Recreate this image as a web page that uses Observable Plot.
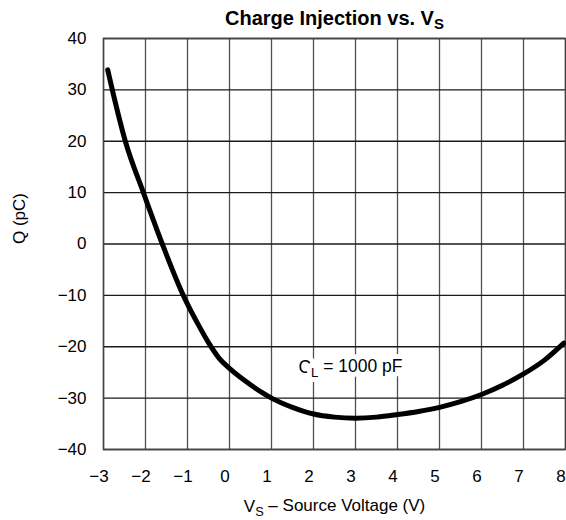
<!DOCTYPE html>
<html>
<head>
<meta charset="utf-8">
<script src="https://cdn.jsdelivr.net/npm/d3@7"></script>
<script src="https://cdn.jsdelivr.net/npm/@observablehq/plot@0.6"></script>
<style>
  html, body { margin: 0; padding: 0; background: #fff; }
</style>
</head>
<body>
<div id="chart"></div>
<script>
// Data
const vsValues = [-2.9, -2.79, -2.48, -2.05, -1.6, -1.1, -1, -0.75, -0.5, -0.25, 0, 0.25, 0.5, 0.75, 1, 1.5, 2, 2.5, 3, 3.5, 4, 4.5, 5, 5.5, 6, 6.5, 7, 7.5, 7.96];
const qValues  = [33.9, 30, 20, 10, 0, -10, -11.7, -15.6, -19.2, -22.2, -24.2, -25.9, -27.4, -28.8, -30.0, -31.8, -33.1, -33.7, -33.9, -33.7, -33.2, -32.6, -31.8, -30.7, -29.3, -27.5, -25.3, -22.6, -19.3];
const xTicks = [-3, -2, -1, 0, 1, 2, 3, 4, 5, 6, 7, 8];
const yTicks = [-40, -30, -20, -10, 0, 10, 20, 30, 40];
const titleText = "Charge Injection vs. VS";
const xLabelText = "VS – Source Voltage (V)";
const yLabelText = "Q (pC)";
const annotation = [{x: 1.64, y: -24, text: "CL = 1000 pF"}];

const data = vsValues.map((v, i) => ({vs: v, q: qValues[i]}));
const font = "'Liberation Sans', Arial, Helvetica, sans-serif";

const chart = Plot.plot({
  width: 566,
  height: 520,
  marginLeft: 103,
  marginRight: 1,
  marginTop: 38,
  marginBottom: 71,
  style: {fontFamily: font, fontSize: "17px", color: "#000", background: "#fff"},
  x: {domain: [-3, 8], label: null},
  y: {domain: [-40, 40], label: null},
  marks: [
    Plot.axisX({ticks: xTicks, tickSize: 0, tickPadding: 20, dx: -4.5, fontSize: 17, label: null}),
    Plot.axisY({ticks: yTicks, tickSize: 0, tickPadding: 17, fontSize: 17, label: null}),
    Plot.ruleX(xTicks, {x: d => d, stroke: "#505050", strokeOpacity: 1, strokeWidth: 1.3}),
    Plot.ruleY(yTicks, {y: d => d, stroke: "#1a1a1a", strokeOpacity: 1, strokeWidth: 1.3}),
    Plot.frame({stroke: "#444", strokeWidth: 1.5}),
    Plot.line(data, {x: "vs", y: "q", curve: "monotone-x", stroke: "#000", strokeWidth: 5, strokeLinecap: "round"}),
    Plot.text(annotation, {x: "x", y: "y", text: "text", textAnchor: "start", fontSize: 17.5, fill: "#000", stroke: "#fff", strokeWidth: 10, paintOrder: "stroke"}),
    Plot.text([titleText], {frameAnchor: "top", dy: -20, lineAnchor: "middle", fontSize: 20, fontWeight: "bold", fill: "#000"}),
    Plot.text([xLabelText], {frameAnchor: "bottom", dy: 57, lineAnchor: "middle", fontSize: 17, fill: "#000"}),
    Plot.text([yLabelText], {frameAnchor: "left", dx: -84, rotate: -90, lineAnchor: "middle", fontSize: 17, fill: "#000"})
  ]
});

document.getElementById("chart").appendChild(chart);

// Add subscripts as tspans
function subscriptify(full, base, sub, rest) {
  d3.select(chart).selectAll("text").each(function() {
    if (this.textContent === full) {
      const t = d3.select(this);
      t.text(null);
      t.append("tspan").text(base);
      t.append("tspan").attr("dy", "0.3em").attr("font-size", "75%").text(sub);
      if (rest) t.append("tspan").attr("dy", "-0.3em").text(rest);
    }
  });
}
subscriptify(titleText, "Charge Injection vs. V", "S", "");
subscriptify(xLabelText, "V", "S", " – Source Voltage (V)");
subscriptify(annotation[0].text, "C", "L", " = 1000 pF");
</script>
</body>
</html>
